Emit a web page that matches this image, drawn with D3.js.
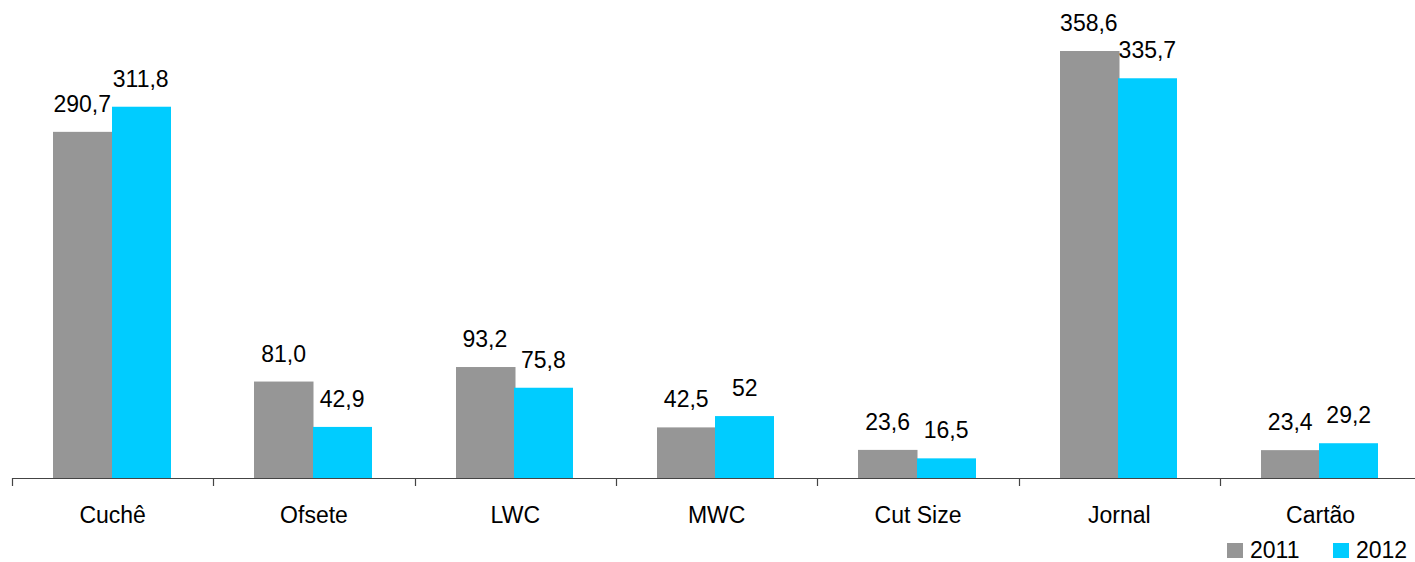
<!DOCTYPE html>
<html>
<head>
<meta charset="utf-8">
<script src="https://cdn.jsdelivr.net/npm/d3@7/dist/d3.min.js"></script>
<style>
  html, body { margin: 0; padding: 0; background: #fff; }
  svg { display: block; font-family: "Liberation Sans", Arial, sans-serif; }
</style>
</head>
<body>
<svg id="chart" width="1415" height="562"></svg>
<script>
const categories = ["Cuchê", "Ofsete", "LWC", "MWC", "Cut Size", "Jornal", "Cartão"];
const series2011 = [290.7, 81.0, 93.2, 42.5, 23.6, 358.6, 23.4];
const series2012 = [311.8, 42.9, 75.8, 52, 16.5, 335.7, 29.2];
const labels2011 = ["290,7", "81,0", "93,2", "42,5", "23,6", "358,6", "23,4"];
const labels2012 = ["311,8", "42,9", "75,8", "52", "16,5", "335,7", "29,2"];
const seriesNames = ["2011", "2012"];
const colors = ["#969696", "#00CCFF"];

const svg = d3.select("#chart");
const baseY = 478;
const x0 = d3.scaleBand().domain(categories).range([12, 12 + 201.33 * 7]).paddingInner(0).paddingOuter(0);
const x1 = d3.scaleBand().domain(seriesNames).range([41, 41 + 117]);
const y = d3.scaleLinear().domain([0, 358.6]).range([baseY, 51]);

const data = [series2011, series2012];
const labs = [labels2011, labels2012];
const fontSize = 23;

seriesNames.forEach((s, si) => {
  const g = svg.append("g");
  g.selectAll("rect").data(categories).join("rect")
    .attr("x", (c) => Math.round(x0(c) + x1(s)))
    .attr("width", Math.round(x1.bandwidth()) + (si === 0 ? 0.5 : 0))
    .attr("y", (c, i) => y(data[si][i]))
    .attr("height", (c, i) => baseY - y(data[si][i]))
    .attr("fill", colors[si]);
  g.selectAll("text").data(categories).join("text")
    .attr("x", (c) => x0(c) + x1(s) + x1.bandwidth() / 2)
    .attr("y", (c, i) => y(data[si][i]) - 20)
    .attr("text-anchor", "middle")
    .attr("font-size", fontSize)
    .attr("fill", "#000")
    .text((c, i) => labs[si][i]);
});

// axis
const axis = d3.axisBottom(x0).tickSize(8).tickSizeOuter(0).tickFormat("");
const ax = svg.append("g").attr("transform", `translate(0,${baseY})`);
ax.call(axis);
ax.select(".domain").remove();
ax.append("line").attr("x1", 12).attr("x2", 1415).attr("y1", 0.5).attr("y2", 0.5)
  .attr("stroke", "#444").attr("stroke-width", 1.2);
ax.selectAll(".tick").attr("transform", (c) => `translate(${Math.round(x0(c)) + 0.5},0)`);
ax.selectAll(".tick line").attr("stroke", "#444").attr("stroke-width", 1.2);

svg.append("g").selectAll("text").data(categories).join("text")
  .attr("x", (c) => x0(c) + x0.bandwidth() / 2)
  .attr("y", 523)
  .attr("text-anchor", "middle")
  .attr("font-size", fontSize)
  .attr("fill", "#000")
  .text((c) => c);

// legend
const legX = [1227, 1333];
const leg = svg.append("g");
seriesNames.forEach((s, i) => {
  leg.append("rect").attr("x", legX[i]).attr("y", 543).attr("width", 16).attr("height", 15).attr("fill", colors[i]);
  leg.append("text").attr("x", legX[i] + 23).attr("y", 558).attr("font-size", fontSize).attr("fill", "#000").text(s);
});
</script>
</body>
</html>
